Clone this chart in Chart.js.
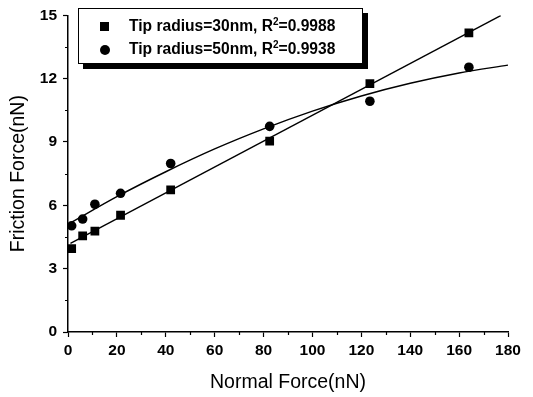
<!DOCTYPE html>
<html>
<head>
  <meta charset="UTF-8">
  <title>Friction vs Normal Force</title>
  <script src="https://cdn.jsdelivr.net/npm/chart.js"></script>
  <style>
    body {
      margin: 0;
      background: #fff;
      font-family: 'Liberation Sans', Arial, sans-serif;
    }
    .wrap {
      position: relative;
      width: 533px;
      height: 397px;
    }
    .legend {
      position: absolute;
      left: 78px;
      top: 8px;
      width: 283px;
      height: 54px;
      border: 1px solid #000;
      background: #fff;
      box-shadow: 5px 5px 0 #000;
      font-size: 15.6px;
      font-weight: bold;
      color: #000;
    }
    .row {
      position: absolute;
      left: 0;
      height: 18px;
      line-height: 18px;
      white-space: nowrap;
    }
    .row span.txt {
      position: absolute;
      left: 50px;
    }
    .mk {
      position: absolute;
      background: #000;
    }
    .sq { left: 21px; top: 5px; width: 9px; height: 9px; }
    .ci { left: 21px; top: 5px; width: 10px; height: 10px; border-radius: 50%; }
    sup { font-size: 10px; line-height: 0; }
  </style>
</head>
<body>
  <div class="wrap">
    <canvas id="chart" width="533" height="397"></canvas>
    <div class="legend">
      <div class="row" style="top: 8px;"><span class="mk sq"></span><span class="txt">Tip radius=30nm, R<sup>2</sup>=0.9988</span></div>
      <div class="row" style="top: 31px;"><span class="mk ci"></span><span class="txt">Tip radius=50nm, R<sup>2</sup>=0.9938</span></div>
    </div>
  </div>

  <script>
    // measured points
    const normalForce = [1.5, 6, 11, 21.5, 42, 82.5, 123.5, 164];
    const friction30 = [3.95, 4.55, 4.78, 5.53, 6.73, 9.04, 11.76, 14.17];
    const friction50 = [5.03, 5.35, 6.05, 6.57, 7.98, 9.74, 10.93, 12.54];

    // fitted lines
    const fit30X = [1, 177];
    const fit30Y = [4.2, 14.98];
    const fit50X = [1.5, 20, 40, 60, 80, 100, 120, 140, 160, 180];
    const fit50Y = [5.2, 6.41, 7.59, 8.67, 9.62, 10.46, 11.18, 11.78, 12.27, 12.64];

    const xMinor = [10, 30, 50, 70, 90, 110, 130, 150, 170];
    const yMinor = [1.5, 4.5, 7.5, 10.5, 13.5];

    const pts = (xs, ys) => xs.map((x, i) => ({ x, y: ys[i] }));

    const minorTicks = {
      id: 'minorTicks',
      afterDraw(chart) {
        const { ctx, scales: { x, y } } = chart;
        ctx.save();
        ctx.strokeStyle = '#000';
        ctx.lineWidth = 1.2;
        ctx.beginPath();
        xMinor.forEach(v => {
          const px = Math.round(x.getPixelForValue(v)) + 0.5;
          ctx.moveTo(px, x.top);
          ctx.lineTo(px, x.top + 3);
        });
        yMinor.forEach(v => {
          const py = Math.round(y.getPixelForValue(v)) + 0.5;
          ctx.moveTo(y.right, py);
          ctx.lineTo(y.right - 3, py);
        });
        ctx.stroke();
        ctx.restore();
      }
    };

    const tickFont = { family: "'Liberation Sans', Arial, sans-serif", size: 15.5, weight: 'bold' };
    const titleFont = { family: "'Liberation Sans', Arial, sans-serif", size: 19.5 };

    new Chart(document.getElementById('chart'), {
      type: 'scatter',
      data: {
        datasets: [
          {
            label: 'fit 30nm',
            data: pts(fit30X, fit30Y),
            showLine: true,
            borderColor: '#000',
            borderWidth: 1.4,
            pointRadius: 0
          },
          {
            label: 'fit 50nm',
            data: pts(fit50X, fit50Y),
            showLine: true,
            borderColor: '#000',
            borderWidth: 1.4,
            pointRadius: 0,
            tension: 0.4,
            cubicInterpolationMode: 'monotone'
          },
          {
            label: 'Tip radius=30nm',
            data: pts(normalForce, friction30),
            pointStyle: 'rect',
            pointRadius: 6.2,
            backgroundColor: '#000',
            borderColor: '#000',
            borderWidth: 0
          },
          {
            label: 'Tip radius=50nm',
            data: pts(normalForce, friction50),
            pointStyle: 'circle',
            pointRadius: 4.8,
            backgroundColor: '#000',
            borderColor: '#000',
            borderWidth: 0
          }
        ]
      },
      options: {
        responsive: false,
        animation: false,
        layout: { padding: { top: 10, right: 25, bottom: 0, left: 0 } },
        plugins: {
          legend: { display: false },
          tooltip: { enabled: false }
        },
        scales: {
          x: {
            type: 'linear',
            min: 0,
            max: 180,
            afterFit: s => { s.height = 65; },
            ticks: { stepSize: 20, color: '#000', font: tickFont, padding: 4, maxRotation: 0 },
            grid: { display: true, drawOnChartArea: false, drawTicks: true, tickLength: 5, tickColor: '#000', tickWidth: 1.2 },
            border: { display: true, color: '#000', width: 1.5 },
            title: { display: true, text: 'Normal Force(nN)', color: '#000', font: titleFont, padding: { top: 0, bottom: 3 } }
          },
          y: {
            type: 'linear',
            min: 0,
            max: 15,
            afterFit: s => { s.width = 68; },
            ticks: { stepSize: 3, color: '#000', font: tickFont, padding: 6 },
            grid: { display: true, drawOnChartArea: false, drawTicks: true, tickLength: 5, tickColor: '#000', tickWidth: 1.2 },
            border: { display: true, color: '#000', width: 1.5 },
            title: { display: true, text: 'Friction Force(nN)', color: '#000', font: titleFont, padding: { top: 7, bottom: 0 } }
          }
        }
      },
      plugins: [minorTicks]
    });
  </script>
</body>
</html>
